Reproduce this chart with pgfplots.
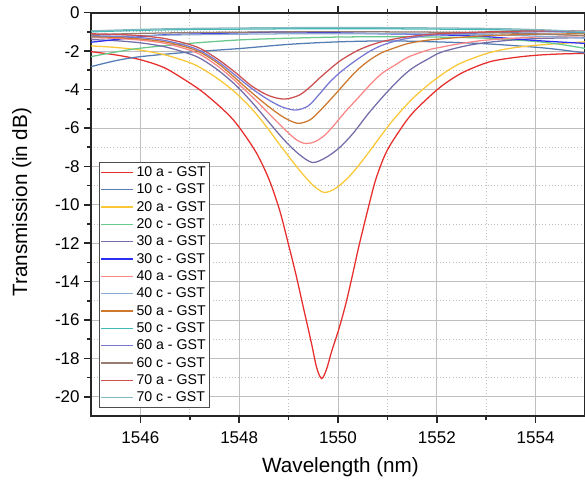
\documentclass[border=0pt]{standalone}
\usepackage{fontspec}
\setmainfont{Liberation Sans}
\usepackage{pgfplots}
\pgfplotsset{compat=1.18}
\definecolor{c10a}{RGB}{232,45,45}
\definecolor{c10c}{RGB}{85,125,180}
\definecolor{c20a}{RGB}{250,200,55}
\definecolor{c20c}{RGB}{105,200,140}
\definecolor{c30a}{RGB}{115,110,170}
\definecolor{c30c}{RGB}{45,45,245}
\definecolor{c40a}{RGB}{250,135,135}
\definecolor{c40c}{RGB}{140,170,210}
\definecolor{c50a}{RGB}{205,120,45}
\definecolor{c50c}{RGB}{65,185,185}
\definecolor{c60a}{RGB}{120,120,210}
\definecolor{c60c}{RGB}{150,125,110}
\definecolor{c70a}{RGB}{205,80,80}
\definecolor{c70c}{RGB}{130,185,190}
\begin{document}
\begin{tikzpicture}
\begin{axis}[name=ax, scale only axis, width=370.5pt, height=302.5pt,
  xmin=1545, xmax=1555, ymin=-21, ymax=0,
  xtick={1546,1548,...,1554}, ytick={-20,-18,...,0},
  minor x tick num=1, minor y tick num=1,
  tick align=outside, major tick length=5pt, minor tick length=3pt,
  axis line style={line width=1.5pt, black!85},
  every tick/.style={line width=1.2pt, black!85},
  grid=both,
  major grid style={gray!50, line width=0.6pt},
  minor grid style={gray!50, dotted, line width=0.6pt},
  /pgf/number format/assume math mode=true,
  xticklabel style={/pgf/number format/1000 sep=, yshift=-3pt},
  tick label style={font=\fontsize{12.75}{14}\selectfont},
  label style={font=\fontsize{15.5}{18}\selectfont},
  xlabel={Wavelength (nm)}, ylabel={Transmission (in dB)},
  xlabel style={at={(axis description cs:0.505,-0.127)}, anchor=center},
  ylabel style={at={(axis description cs:-0.14,0.53)}, anchor=center},
  every axis plot/.append style={line width=0.95pt},
  legend image code/.code={\draw[#1] (0pt,0pt) -- (24pt,0pt);},
  legend cell align=left,
  legend style={at={(axis description cs:0.016,0.02)}, anchor=south west,
    draw=black!70, line width=0.6pt, fill=white,
    font=\fontsize{10.6}{12}\selectfont, inner sep=1pt, row sep=0pt,
    nodes={inner xsep=2pt, inner ysep=2pt, text height=7.8pt, text depth=1.2pt}},
]
\addplot[c10a, smooth] coordinates {(1545,-2.03) (1545.5,-2.2) (1546,-2.45) (1546.47,-2.85) (1546.87,-3.45) (1547.22,-4.05) (1547.57,-4.8) (1547.87,-5.55) (1548.12,-6.4) (1548.37,-7.4) (1548.61,-8.72) (1548.82,-10.3) (1549.01,-12.19) (1549.15,-13.65) (1549.28,-15.14) (1549.37,-16.15) (1549.47,-17.3) (1549.57,-18.5) (1549.67,-19.05) (1549.77,-18.55) (1549.87,-17.65) (1550.02,-16.45) (1550.16,-15.14) (1550.29,-13.7) (1550.42,-12.19) (1550.59,-10.4) (1550.76,-8.72) (1550.97,-7.3) (1551.23,-6.2) (1551.52,-5.2) (1552.04,-3.94) (1552.5,-3.15) (1553.04,-2.58) (1553.5,-2.36) (1554,-2.22) (1554.5,-2.15) (1555,-2.12)};
\addlegendentry{10 a - GST}
\addplot[c10c, smooth] coordinates {(1545,-2.81) (1545.5,-2.5) (1546,-2.29) (1547,-2.05) (1548,-1.87) (1549,-1.65) (1550,-1.52) (1551,-1.47) (1552,-1.52) (1553,-1.62) (1554,-1.8) (1554.5,-1.93) (1555,-2.1)};
\addlegendentry{10 c - GST}
\addplot[c20a, smooth] coordinates {(1545,-1.73) (1545.5,-1.81) (1546,-1.95) (1546.5,-2.2) (1547,-2.6) (1547.26,-2.93) (1547.6,-3.5) (1547.94,-4.2) (1548.27,-5.05) (1548.54,-5.9) (1548.8,-6.8) (1549.05,-7.65) (1549.3,-8.45) (1549.5,-9.0) (1549.72,-9.36) (1549.95,-9.15) (1550.2,-8.6) (1550.42,-7.95) (1550.7,-7.0) (1550.96,-6.1) (1551.16,-5.45) (1551.5,-4.5) (1551.83,-3.75) (1552.2,-3.05) (1552.51,-2.6) (1553.04,-2.1) (1553.5,-1.85) (1554,-1.7) (1554.5,-1.6) (1555,-1.52)};
\addlegendentry{20 a - GST}
\addplot[c20c, smooth] coordinates {(1545,-2.29) (1545.5,-2.05) (1546,-1.85) (1547,-1.6) (1548,-1.42) (1549,-1.33) (1550,-1.27) (1551,-1.25) (1552,-1.27) (1553,-1.33) (1554,-1.5) (1554.5,-1.65) (1555,-1.86)};
\addlegendentry{20 c - GST}
\addplot[c30a, smooth] coordinates {(1545,-1.4) (1545.5,-1.46) (1546,-1.57) (1546.5,-1.78) (1547,-2.15) (1547.26,-2.45) (1547.6,-3.05) (1547.94,-3.8) (1548.27,-4.7) (1548.6,-5.7) (1548.9,-6.6) (1549.2,-7.35) (1549.48,-7.8) (1549.75,-7.55) (1550.02,-7.05) (1550.3,-6.3) (1550.6,-5.3) (1550.9,-4.4) (1551.23,-3.5) (1551.5,-2.9) (1551.83,-2.4) (1552.1,-2.05) (1552.64,-1.7) (1553.2,-1.5) (1554,-1.35) (1555,-1.3)};
\addlegendentry{30 a - GST}
\addplot[c30c, smooth] coordinates {(1545,-1.54) (1545.5,-1.4) (1546,-1.25) (1546.5,-1.15) (1547.3,-1.1) (1548,-1.05) (1549,-1.0) (1550,-1.05) (1551,-1.1) (1552,-1.15) (1553,-1.25) (1554,-1.45) (1555,-1.6)};
\addlegendentry{30 c - GST}
\addplot[c40a, smooth] coordinates {(1545,-1.3) (1545.5,-1.34) (1546,-1.43) (1546.5,-1.6) (1547,-1.95) (1547.26,-2.25) (1547.6,-2.85) (1547.94,-3.6) (1548.27,-4.4) (1548.6,-5.25) (1548.95,-6.15) (1549.15,-6.6) (1549.31,-6.8) (1549.5,-6.75) (1549.7,-6.45) (1549.89,-5.95) (1550.15,-5.15) (1550.42,-4.4) (1550.65,-3.75) (1550.89,-3.16) (1551.16,-2.72) (1551.43,-2.3) (1551.83,-1.94) (1552.04,-1.82) (1552.5,-1.6) (1553.04,-1.42) (1554,-1.27) (1555,-1.2)};
\addlegendentry{40 a - GST}
\addplot[c40c, smooth] coordinates {(1545,-1.28) (1546,-1.2) (1547,-1.15) (1549,-1.1) (1551,-1.1) (1553,-1.15) (1554,-1.22) (1555,-1.32)};
\addlegendentry{40 c - GST}
\addplot[c50a, smooth] coordinates {(1545,-1.25) (1545.5,-1.29) (1546,-1.37) (1546.5,-1.52) (1547,-1.85) (1547.26,-2.13) (1547.6,-2.7) (1547.94,-3.45) (1548.27,-4.2) (1548.6,-4.9) (1548.9,-5.45) (1549.18,-5.76) (1549.42,-5.6) (1549.62,-5.15) (1549.82,-4.6) (1550.02,-4.03) (1550.22,-3.45) (1550.42,-2.92) (1550.65,-2.45) (1550.89,-2.08) (1551.16,-1.82) (1551.43,-1.6) (1551.83,-1.43) (1552.5,-1.28) (1553,-1.2) (1554,-1.12) (1555,-1.1)};
\addlegendentry{50 a - GST}
\addplot[c50c, smooth] coordinates {(1545,-1.0) (1546,-0.92) (1547,-0.88) (1549,-0.84) (1551,-0.84) (1553,-0.88) (1554,-0.95) (1555,-1.05)};
\addlegendentry{50 c - GST}
\addplot[c60a, smooth] coordinates {(1545,-1.2) (1545.5,-1.23) (1546,-1.3) (1546.5,-1.45) (1547,-1.77) (1547.26,-2.05) (1547.6,-2.6) (1547.94,-3.3) (1548.27,-3.98) (1548.6,-4.55) (1548.88,-4.92) (1549.15,-5.07) (1549.4,-4.85) (1549.62,-4.25) (1549.82,-3.65) (1550.02,-3.16) (1550.22,-2.75) (1550.42,-2.38) (1550.65,-2.0) (1550.89,-1.7) (1551.16,-1.48) (1551.43,-1.33) (1552,-1.15) (1553,-1.05) (1554,-1.0) (1555,-1.0)};
\addlegendentry{60 a - GST}
\addplot[c60c, smooth] coordinates {(1545,-1.15) (1546,-1.08) (1547,-1.04) (1549,-1.0) (1551,-1.0) (1553,-1.04) (1554,-1.1) (1555,-1.2)};
\addlegendentry{60 c - GST}
\addplot[c70a, smooth] coordinates {(1545,-1.1) (1545.5,-1.13) (1546,-1.2) (1546.5,-1.35) (1547,-1.66) (1547.26,-1.93) (1547.6,-2.48) (1547.94,-3.15) (1548.27,-3.85) (1548.61,-4.33) (1548.92,-4.5) (1549.21,-4.3) (1549.42,-3.9) (1549.62,-3.42) (1549.82,-2.97) (1550.02,-2.55) (1550.22,-2.22) (1550.42,-1.94) (1550.65,-1.7) (1550.89,-1.51) (1551.16,-1.36) (1551.43,-1.25) (1552,-1.1) (1553,-1.0) (1554,-0.95) (1555,-0.95)};
\addlegendentry{70 a - GST}
\addplot[c70c, smooth] coordinates {(1545,-0.95) (1546,-0.87) (1547,-0.82) (1549,-0.78) (1551,-0.78) (1553,-0.82) (1554,-0.88) (1555,-0.98)};
\addlegendentry{70 c - GST}
\end{axis}
\pgfresetboundingbox
\path ([shift={(-68.25pt,-50.25pt)}]ax.south west) rectangle ([shift={(0pt,9.5pt)}]ax.north east);
\end{tikzpicture}
\end{document}
